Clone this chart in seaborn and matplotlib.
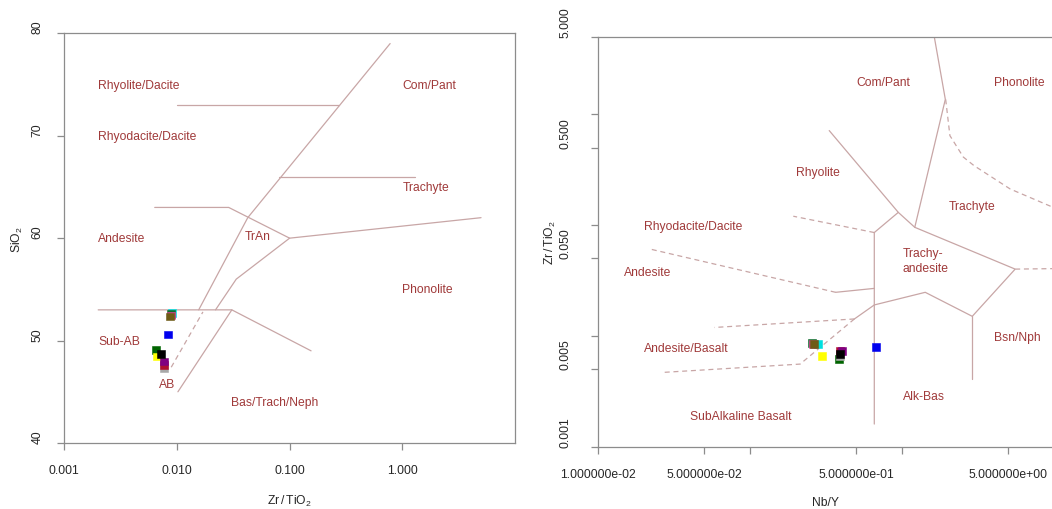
import numpy as np
import pandas as pd
import matplotlib
matplotlib.use("Agg")
import matplotlib.pyplot as plt
import seaborn as sns

# ---------------- data ----------------
samples = ["A", "B", "C", "D", "E", "F", "G", "H", "I", "J", "K"]
sample_colors = ["#00E0E0", "#0B6B2B", "#E0409A", "#6E5B16", "#0000EE", "#006400",
                 "#FFFF00", "#A8A8A8", "#B01030", "#800080", "#000000"]
# left panel: Zr/TiO2 vs SiO2
zr_tio2_left = [0.0090, 0.0088, 0.0089, 0.00875, 0.00839, 0.00649, 0.00666, 0.00762, 0.00762, 0.00762, 0.00728]
sio2 = [52.7, 52.6, 52.45, 52.35, 50.6, 49.1, 48.45, 47.3, 47.64, 47.96, 48.7]
# right panel: Nb/Y vs Zr/TiO2
nb_y = [0.282, 0.255, 0.262, 0.265, 0.681, 0.388, 0.300, 0.392, 0.392, 0.404, 0.393]
zr_tio2_right = [0.00843, 0.00861, 0.0085, 0.00848, 0.00796, 0.00613, 0.00652, 0.0066, 0.00728, 0.00724, 0.00689]

# field boundaries (Winchester & Floyd 1977)
left_solid = [
    [(0.01, 73), (0.275, 73)],
    [(0.0156, 53), (0.0425, 62), (0.78, 79)],
    [(0.08, 66), (1.3, 66)],
    [(0.00635, 63), (0.0288, 63), (0.1, 60), (5.0, 62)],
    [(0.022, 53), (0.0336, 56), (0.1, 60)],
    [(0.002, 53), (0.0307, 53), (0.155, 49)],
    [(0.0102, 45), (0.0307, 53)],
]
left_dashed = [
    [(0.0089, 47.4), (0.017, 52.8)],
]
left_labels = ["Rhyolite/Dacite", "Rhyodacite/Dacite", "Andesite", "Sub-AB", "Com/Pant",
               "Trachyte", "Phonolite", "TrAn", "AB", "Bas/Trach/Neph"]
left_label_x = [0.002, 0.002, 0.002, 0.002, 1.0, 1.0, 1.0, 0.04, 0.0069, 0.03]
left_label_y = [75, 70, 60, 50, 75, 65, 55, 60.2, 45.8, 44]

right_solid = [
    [(1.64, 5.0), (1.94, 1.36), (1.22, 0.0953)],
    [(0.333, 0.711), (0.95, 0.130), (1.22, 0.0953), (5.6, 0.040), (2.92, 0.015),
     (1.43, 0.0247), (0.66, 0.019), (0.488, 0.0142)],
    [(0.95, 0.130), (0.66, 0.0855), (0.66, 0.0016)],
    [(2.92, 0.015), (2.92, 0.00407)],
    [(0.367, 0.0247), (0.66, 0.0268)],
]
right_dashed = [
    [(0.66, 0.0855), (0.193, 0.120)],
    [(5.6, 0.040), (10, 0.0404)],
    [(1.95, 1.36), (2.08, 0.64), (2.55, 0.41), (3.0, 0.343), (5.2, 0.211), (10, 0.144)],
    [(0.488, 0.0142), (0.214, 0.00556), (0.0268, 0.00468)],
    [(0.488, 0.0142), (0.0582, 0.0119)],
    [(0.367, 0.0247), (0.0219, 0.0607)],
]
right_labels = ["Com/Pant", "Phonolite", "Rhyolite", "Trachyte", "Rhyodacite/Dacite",
                "Trachy-\nandesite", "Andesite", "Bsn/Nph", "Andesite/Basalt", "Alk-Bas",
                "SubAlkaline Basalt"]
right_label_x = [0.505, 4.07, 0.2, 2.03, 0.0201, 1.015, 0.0148, 4.07, 0.0201, 1.015, 0.0402]
right_label_y = [1.94, 1.94, 0.298, 0.147, 0.0985, 0.0478, 0.0378, 0.00968, 0.0077, 0.00288, 0.0019]

left_xticks = [0.001, 0.01, 0.1, 1.0]
left_xticklabels = ["0.001", "0.010", "0.100", "1.000"]
left_yticks = [40, 50, 60, 70, 80]
right_xticks = [0.01, 0.05, 0.1, 0.5, 1, 5]
right_xticklabels = ["1.000000e-02", "5.000000e-02", "", "5.000000e-01", "", "5.000000e+00"]
right_yticks = [0.001, 0.005, 0.01, 0.05, 0.1, 0.5, 1, 5]
right_yticklabels = ["0.001", "0.005", "", "0.050", "", "0.500", "", "5.000"]

# ---------------- style ----------------
sns.set_theme(style="white")
plt.rcParams["font.family"] = ["Liberation Sans", "DejaVu Sans"]
plt.rcParams["mathtext.default"] = "regular"

LINE_C = "#C8A6A6"
TEXT_C = "#A03A3A"
AX_C = "#8C8C8C"
TICK_TXT = "#262626"
FS = 8.7

fig = plt.figure(figsize=(10.52, 5.10), dpi=100)
fig.patch.set_facecolor("white")
axL = fig.add_axes([0.0611, 0.1294, 0.4284, 0.8033])
axR = fig.add_axes([0.5687, 0.1222, 0.4326, 0.8039])

palette = dict(zip(samples, sample_colors))
dfL = pd.DataFrame({"sample": samples, "x": zr_tio2_left, "y": sio2})
dfR = pd.DataFrame({"sample": samples, "x": nb_y, "y": zr_tio2_right})


def style_axes(ax, ypad):
    for sp in ax.spines.values():
        sp.set_color(AX_C)
        sp.set_linewidth(0.9)
    ax.tick_params(axis="both", which="major", direction="out", length=5, width=0.9,
                   color=AX_C, labelsize=FS, labelcolor=TICK_TXT, bottom=True, left=True)
    ax.tick_params(axis="x", pad=10)
    ax.tick_params(axis="y", pad=ypad)
    ax.tick_params(which="minor", bottom=False, left=False)
    ax.grid(False)


def draw_lines(ax, solid, dashed):
    for seg in solid:
        xs, ys = zip(*seg)
        ax.plot(xs, ys, color=LINE_C, lw=0.9, solid_joinstyle="miter", zorder=1)
    for seg in dashed:
        xs, ys = zip(*seg)
        ax.plot(xs, ys, color=LINE_C, lw=0.9, ls=(0, (4, 3)), zorder=1)


# ---------------- left panel ----------------
draw_lines(axL, left_solid, left_dashed)
sns.scatterplot(data=dfL, x="x", y="y", hue="sample", palette=palette, marker="s",
                s=32, linewidth=0.4, edgecolor="face", legend=False, ax=axL, zorder=3)
axL.set_xscale("log")
axL.set_xlim(0.001, 10)
axL.set_ylim(40, 80)
for t, x, y in zip(left_labels, left_label_x, left_label_y):
    axL.text(x, y, t, color=TEXT_C, fontsize=FS, ha="left", va="center")
axL.set_xticks(left_xticks)
axL.set_xticklabels(left_xticklabels)
axL.set_yticks(left_yticks)
axL.set_yticklabels([str(v) for v in left_yticks], rotation=90, va="bottom")
style_axes(axL, 10)
axL.set_xlabel(r"$\mathregular{Zr\,/\,TiO_2}$", fontsize=FS, color=TICK_TXT, labelpad=12)
axL.set_ylabel(r"$\mathregular{SiO_2}$", fontsize=FS, color=TICK_TXT, labelpad=4.5)

# ---------------- right panel ----------------
draw_lines(axR, right_solid, right_dashed)
sns.scatterplot(data=dfR, x="x", y="y", hue="sample", palette=palette, marker="s",
                s=32, linewidth=0.4, edgecolor="face", legend=False, ax=axR, zorder=3)
axR.set_xscale("log")
axR.set_yscale("log")
axR.set_xlim(0.01, 10)
axR.set_ylim(0.001, 5)
for t, x, y in zip(right_labels, right_label_x, right_label_y):
    axR.text(x, y, t, color=TEXT_C, fontsize=FS, ha="left", va="center", linespacing=1.25)
axR.set_xticks(right_xticks)
axR.set_xticklabels(right_xticklabels)
axR.set_yticks(right_yticks)
axR.set_yticklabels(right_yticklabels, rotation=90, va="bottom")
axR.minorticks_off()
style_axes(axR, 14)
axR.set_xlabel("Nb/Y", fontsize=FS, color=TICK_TXT, labelpad=12)
axR.set_ylabel(r"$\mathregular{Zr\,/\,TiO_2}$", fontsize=FS, color=TICK_TXT, labelpad=1.5)

fig.savefig("out.png", dpi=100, facecolor="white")
